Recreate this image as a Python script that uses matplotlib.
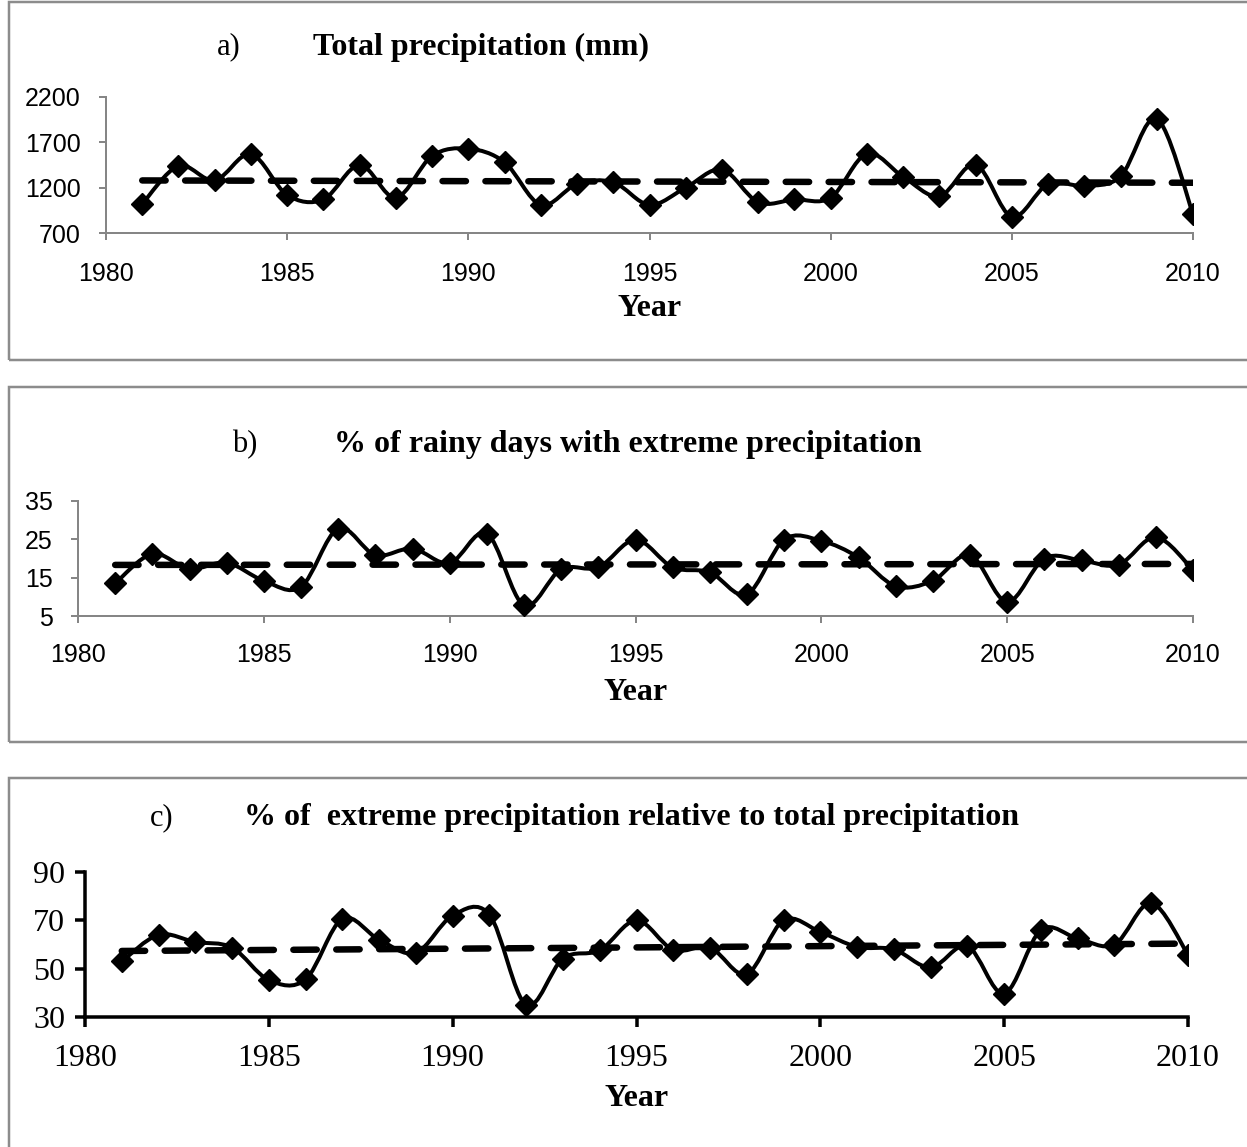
import numpy as np
import matplotlib
matplotlib.use("Agg")
import matplotlib.pyplot as plt
from matplotlib.path import Path
from matplotlib.patches import PathPatch, Rectangle

W, H = 1247, 1147
years = list(range(1981, 2011))

total_precip = [1020, 1440, 1280, 1570, 1120, 1070, 1450, 1090, 1550, 1630,
                1480, 1010, 1240, 1260, 1010, 1200, 1400, 1040, 1070, 1090,
                1575, 1320, 1105, 1455, 880, 1240, 1220, 1325, 1960, 910]
rainy_days_pct = [13.5, 21.2, 17.3, 18.9, 14.2, 12.6, 27.8, 20.9, 22.6, 18.8,
                  26.5, 7.8, 17.2, 17.7, 24.9, 17.7, 16.4, 10.7, 24.9, 24.6,
                  20.3, 12.8, 14.2, 20.9, 8.7, 20.0, 19.5, 18.4, 25.6, 17.0]
extreme_pct = [53, 64, 61, 58.7, 45.3, 45.6, 70.6, 62, 56.6, 72,
               72.3, 35, 54.2, 57.6, 70, 57.8, 58.7, 47.8, 70, 65.2,
               59, 58, 50.5, 59.3, 39.7, 66, 62.5, 60, 77.2, 55.8]

titles = ["Total precipitation (mm)",
          "% of rainy days with extreme precipitation",
          "% of  extreme precipitation relative to total precipitation"]
letters = ["a)", "b)", "c)"]
yticks = [[700, 1200, 1700, 2200], [5, 15, 25, 35], [30, 50, 70, 90]]
xticks = list(range(1980, 2011, 5))

serif = ["Liberation Serif", "DejaVu Serif"]
sans = ["Liberation Sans", "DejaVu Sans"]


def px(v):
    return v * 0.72  # pixels -> points at dpi 100


def smooth_path(x, y):
    # Excel-style smoothed line: Catmull-Rom segments as cubic Bezier curves
    x = np.asarray(x, float); y = np.asarray(y, float)
    n = len(x)
    verts = [(x[0], y[0])]; codes = [Path.MOVETO]
    for i in range(n - 1):
        i0, i2, i3 = max(i - 1, 0), i + 1, min(i + 2, n - 1)
        c1 = (x[i] + (x[i2] - x[i0]) / 6, y[i] + (y[i2] - y[i0]) / 6)
        c2 = (x[i2] - (x[i3] - x[i]) / 6, y[i2] - (y[i3] - y[i]) / 6)
        verts += [c1, c2, (x[i2], y[i2])]
        codes += [Path.CURVE4] * 3
    return Path(verts, codes)


fig = plt.figure(figsize=(W / 100, H / 100), dpi=100)

# chart area boxes (pixel rects: top, bottom)
for top, bot in [(2, 360), (387, 742), (778, 1170)]:
    fig.patches.append(Rectangle((9 / W, 1 - bot / H), 1.2, (bot - top) / H,
                                 transform=fig.transFigure, fill=False,
                                 edgecolor="#8c8c8c", lw=px(2.5), zorder=0))

# axes placement in pixels: left, right, top, bottom
boxes = [(106, 1193, 97, 233), (78, 1193, 501, 616), (85, 1188, 872, 1017)]
series = [total_precip, rainy_days_pct, extreme_pct]
letter_pos = [(229, 47), (245, 445), (162, 818)]
title_pos = [(481, 47), (628, 445), (631, 818)]
year_pos = [309, 692, 1098]
xpads = [22, 20, 17]

for k in range(3):
    l, r, t, b = boxes[k]
    ax = fig.add_axes([l / W, 1 - b / H, (r - l) / W, (b - t) / H])
    vals = series[k]
    c = "#868686" if k < 2 else "black"
    slw = px(2) if k < 2 else px(3.5)
    ax.set_xlim(1980, 2010)
    ax.set_ylim(yticks[k][0], yticks[k][-1])
    ax.set_xticks(xticks); ax.set_yticks(yticks[k])
    for s in ["top", "right"]:
        ax.spines[s].set_visible(False)
    for s in ["left", "bottom"]:
        ax.spines[s].set_color(c); ax.spines[s].set_linewidth(slw)
    ax.tick_params(colors=c, width=slw, length=px(7 if k < 2 else 10),
                   direction="out", labelcolor="black")
    if k < 2:
        ax.tick_params(labelsize=18)
        ax.tick_params(axis="x", pad=px(xpads[k]))
        ax.tick_params(axis="y", pad=px(18))
        for lab in ax.get_xticklabels() + ax.get_yticklabels():
            lab.set_family(sans)
    else:
        ax.tick_params(labelsize=23)
        ax.tick_params(axis="x", pad=px(xpads[k]))
        ax.tick_params(axis="y", pad=px(10))
        for lab in ax.get_xticklabels() + ax.get_yticklabels():
            lab.set_family(serif)
    ax.patch.set_alpha(0)

    # linear trend (dashed)
    coef = np.polyfit(years, vals, 1)
    tx = [years[0], years[-1]]
    ax.plot(tx, np.polyval(coef, tx), color="black", lw=px(6.5),
            dashes=(3.6, 3.0), dash_capstyle="round", zorder=2)

    ax.add_patch(PathPatch(smooth_path(years, vals), facecolor="none",
                           edgecolor="black", lw=px(4), zorder=3))
    ax.plot(years, vals, ls="none", marker="D", ms=11.5, color="black", zorder=4)

    fig.text(letter_pos[k][0] / W, 1 - letter_pos[k][1] / H, letters[k],
             family=serif, fontsize=22, ha="center", va="center")
    fig.text(title_pos[k][0] / W, 1 - title_pos[k][1] / H, titles[k],
             family=serif, fontsize=23, fontweight="bold", ha="center", va="center")
    fig.text((l + r) / 2 / W + 0.0, 1 - year_pos[k] / H, "Year",
             family=serif, fontsize=23, fontweight="bold", ha="center", va="center")

fig.savefig("out.png", dpi=100)
